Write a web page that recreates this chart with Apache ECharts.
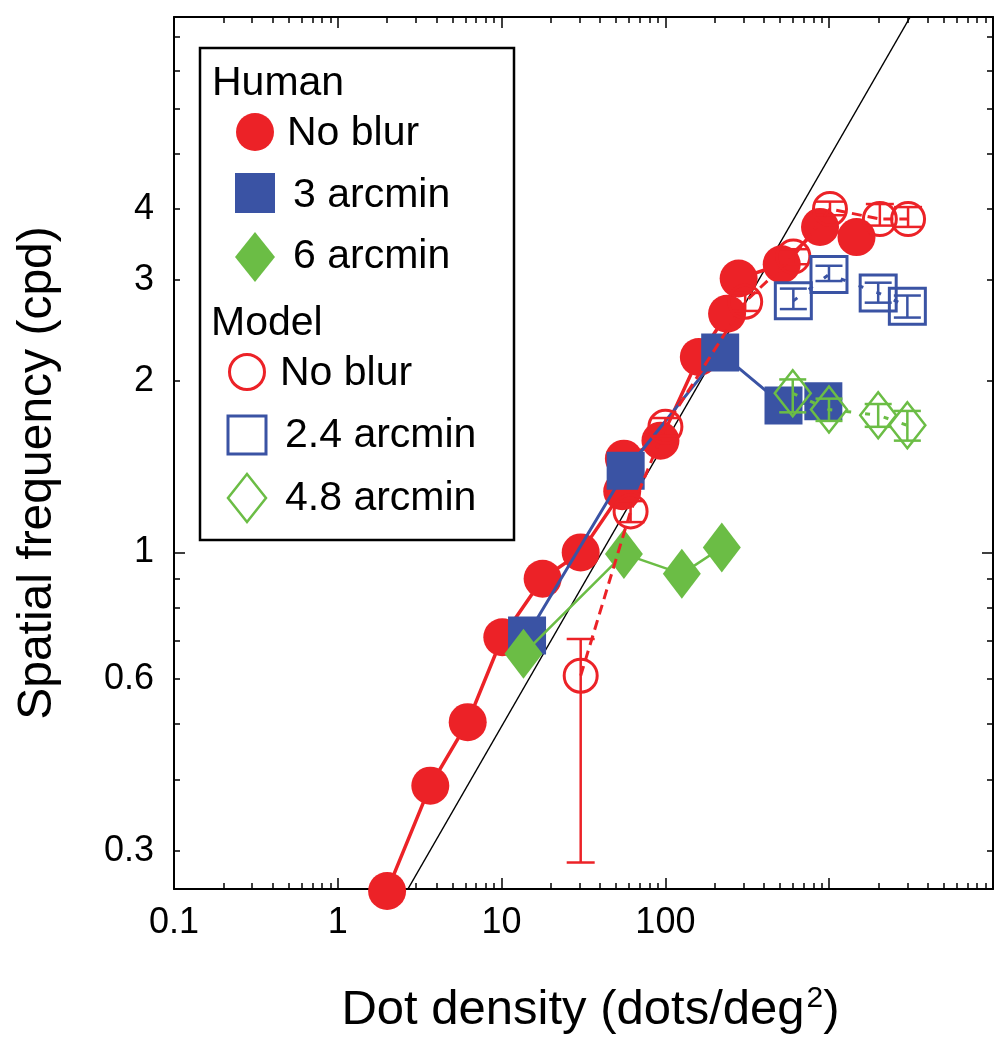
<!DOCTYPE html>
<html><head><meta charset="utf-8">
<script src="https://cdn.jsdelivr.net/npm/echarts@6/dist/echarts.min.js"></script>
<style>html,body{margin:0;padding:0;background:#fff}#c{width:1006px;height:1050px}</style>
</head><body><div id="c"></div>
<script>
// ---------------- data ----------------
const humanNoBlurX = [2.0, 3.67, 6.21, 10.1, 17.8, 30.4, 54.5, 55.8, 93.3, 160, 238, 280, 513, 879, 1468];
const humanNoBlurY = [0.255, 0.39, 0.504, 0.71, 0.899, 1.0, 1.28, 1.46, 1.57, 2.2, 2.62, 3.02, 3.2, 3.72, 3.57];

const human3X = [14.3, 57.2, 216, 526, 921];
const human3Y = [0.715, 1.39, 2.24, 1.81, 1.84];

const human6X = [13.6, 55.8, 126, 221];
const human6Y = [0.664, 0.994, 0.917, 1.02];

const modelNoBlurX  = [30.4, 61.3, 100, 307, 604, 1011, 2038, 3030];
const modelNoBlurY  = [0.608, 1.18, 1.66, 2.75, 3.3, 4.0, 3.84, 3.84];
const modelNoBlurLo = [0.286, 1.13, 1.60, 2.65, 3.2, 3.9, 3.74, 3.72];
const modelNoBlurHi = [0.705, 1.23, 1.72, 2.85, 3.4, 4.12, 4.08, 4.03];

const model24X  = [604, 997, 1991, 3000];
const model24Y  = [2.76, 3.07, 2.85, 2.70];
const model24Lo = [2.67, 2.99, 2.74, 2.58];
const model24Hi = [2.90, 3.18, 2.97, 2.82];

const model48X  = [599, 997, 1991, 3000];
const model48Y  = [1.90, 1.78, 1.74, 1.67];
const model48Lo = [1.76, 1.70, 1.66, 1.57];
const model48Hi = [2.01, 1.86, 1.82, 1.77];

const refLineX = [2.68, 3120];
const refLineY = [0.257, 8.68];

const xTickLabels = [0.1, 1, 10, 100];
const yTickLabels = [0.3, 0.6, 1, 2, 3, 4];
const xMajorTicks = [0.1, 1, 10, 100, 1000, 10000];
const yMajorTicks = [1];
const X_MIN = 0.1, X_MAX = 10000, Y_MIN = 0.257, Y_MAX = 8.68;

// minor tick positions (2..9 times each decade)
const xMinorTicks = [];
[0.1, 1, 10, 100, 1000].forEach(d => { for (let k = 2; k <= 9; k++) xMinorTicks.push(+(d * k).toPrecision(3)); });
const yMinorTicks = [];
[0.1, 1].forEach(d => { for (let k = 2; k <= 9; k++) { const v = +(d * k).toPrecision(3); if (v > Y_MIN && v < Y_MAX && v !== 1) yMinorTicks.push(v); } });

// ---------------- styling ----------------
const FONT = '"Liberation Sans", Arial, Helvetica, sans-serif';
const RED = '#ec2227', BLUE = '#3a53a4', GREEN = '#6bbd45';

const pairs = (xs, ys) => xs.map((x, i) => [x, ys[i]]);
const fmt = v => String(+(+v).toPrecision(3));

function xAx(pos, ticks, len, showLine, labels, extra) {
  return Object.assign({
    type: 'log', logBase: 10, min: X_MIN, max: X_MAX, position: pos, gridIndex: 0,
    axisLine: { show: showLine, onZero: false, lineStyle: { color: '#000', width: 2 } },
    axisTick: { show: true, inside: true, length: len, customValues: ticks, lineStyle: { color: '#000', width: 1.5 } },
    axisLabel: labels ? { show: true, customValues: labels, margin: 16, fontSize: 36, color: '#000', fontFamily: FONT, formatter: fmt } : { show: false },
    splitLine: { show: false }, minorTick: { show: false }, minorSplitLine: { show: false }
  }, extra || {});
}
function yAx(pos, ticks, len, showLine, labels, extra) {
  return Object.assign({
    type: 'log', logBase: 10, min: Y_MIN, max: Y_MAX, position: pos, gridIndex: 0,
    axisLine: { show: showLine, onZero: false, lineStyle: { color: '#000', width: 2 } },
    axisTick: { show: true, inside: true, length: len, customValues: ticks, lineStyle: { color: '#000', width: 1.5 } },
    axisLabel: labels ? { show: true, customValues: labels, margin: 20, fontSize: 36, color: '#000', fontFamily: FONT, formatter: fmt } : { show: false },
    splitLine: { show: false }, minorTick: { show: false }, minorSplitLine: { show: false }
  }, extra || {});
}

function errSeries(xs, lo, hi, color, capW, lw, z) {
  return {
    type: 'custom', xAxisIndex: 0, yAxisIndex: 0, z: z, silent: true, clip: false,
    data: xs.map((x, i) => [x, lo[i], hi[i]]),
    encode: { x: 0, y: [1, 2] },
    renderItem: function (params, api) {
      const p1 = api.coord([api.value(0), api.value(1)]);
      const p2 = api.coord([api.value(0), api.value(2)]);
      const st = { stroke: color, lineWidth: lw, fill: null };
      return { type: 'group', children: [
        { type: 'line', shape: { x1: p1[0], y1: p1[1], x2: p2[0], y2: p2[1] }, style: st },
        { type: 'line', shape: { x1: p1[0] - capW / 2, y1: p1[1], x2: p1[0] + capW / 2, y2: p1[1] }, style: st },
        { type: 'line', shape: { x1: p2[0] - capW / 2, y1: p2[1], x2: p2[0] + capW / 2, y2: p2[1] }, style: st }
      ] };
    }
  };
}

const chart = echarts.init(document.getElementById('c'), null, { renderer: 'canvas' });

// legend (drawn as graphic)
const LX = 200, LY = 48;
const legendFont = '41px ' + FONT;
function ltext(t, x, y) { return { type: 'text', z: 100, style: { text: t, x: x, y: y, font: legendFont, fill: '#000', verticalAlign: 'middle', align: 'left' } }; }
const legend = [
  { type: 'rect', z: 99, shape: { x: LX, y: LY, width: 314, height: 492 }, style: { fill: '#fff', stroke: '#000', lineWidth: 2.5 } },
  ltext('Human', 212, 84),
  { type: 'circle', z: 100, shape: { cx: 255, cy: 132, r: 19 }, style: { fill: RED } },
  ltext('No blur', 287, 134),
  { type: 'rect', z: 100, shape: { x: 235, y: 173, width: 40, height: 40 }, style: { fill: BLUE } },
  ltext('3 arcmin', 293, 196),
  { type: 'polygon', z: 100, shape: { points: [[255, 232], [275, 257], [255, 282], [235, 257]] }, style: { fill: GREEN } },
  ltext('6 arcmin', 293, 257),
  ltext('Model', 211, 324),
  { type: 'circle', z: 100, shape: { cx: 247, cy: 372, r: 17.5 }, style: { fill: 'none', stroke: RED, lineWidth: 3 } },
  ltext('No blur', 280, 374),
  { type: 'rect', z: 100, shape: { x: 228, y: 416, width: 38, height: 38 }, style: { fill: 'none', stroke: BLUE, lineWidth: 3 } },
  ltext('2.4 arcmin', 285, 436),
  { type: 'polygon', z: 100, shape: { points: [[247, 474], [266, 498], [247, 522], [228, 498]] }, style: { fill: 'none', stroke: GREEN, lineWidth: 2.5 } },
  ltext('4.8 arcmin', 285, 499)
];

const option = {
  animation: false,
  backgroundColor: '#fff',
  grid: { left: 174, top: 17, width: 819, height: 872, containLabel: false },
  xAxis: [
    xAx('bottom', xMajorTicks, 11, true, xTickLabels, {
      name: 'Dot density (dots/deg{sup|2})', nameLocation: 'middle', nameGap: 95,
      nameTextStyle: { fontSize: 49, fontFamily: FONT, color: '#000', padding: [0, 0, 0, 14],
        rich: { sup: { fontSize: 30, fontFamily: FONT, color: '#000', verticalAlign: 'top', padding: [0, 0, 22, 2] } } }
    }),
    xAx('bottom', xMinorTicks, 6, false, null),
    xAx('top', xMajorTicks, 11, true, null),
    xAx('top', xMinorTicks, 6, false, null)
  ],
  yAxis: [
    yAx('left', yMajorTicks, 11, true, yTickLabels, {
      name: 'Spatial frequency (cpd)', nameLocation: 'middle', nameGap: 112,
      nameTextStyle: { fontSize: 48, fontFamily: FONT, color: '#000', padding: [0, 40, 0, 0] }
    }),
    yAx('left', yMinorTicks, 6, false, null),
    yAx('right', yMajorTicks, 11, true, null),
    yAx('right', yMinorTicks, 6, false, null)
  ],
  graphic: legend,
  series: [
    { type: 'line', name: 'reference', data: pairs(refLineX, refLineY), symbol: 'none', clip: true, silent: true, z: 1,
      lineStyle: { color: '#000', width: 1.5 } },
    { type: 'line', name: 'Human No blur', data: pairs(humanNoBlurX, humanNoBlurY), clip: false, silent: true, z: 2,
      symbol: 'circle', symbolSize: 38, itemStyle: { color: RED }, lineStyle: { color: RED, width: 3.5 } },
    { type: 'line', name: 'Human 3 arcmin', data: pairs(human3X, human3Y), clip: false, silent: true, z: 3,
      symbol: 'rect', symbolSize: 38, itemStyle: { color: BLUE }, lineStyle: { color: BLUE, width: 3 } },
    { type: 'line', name: 'Human 6 arcmin', data: pairs(human6X, human6Y), clip: false, silent: true, z: 4,
      symbol: 'diamond', symbolSize: [38, 50], itemStyle: { color: GREEN }, lineStyle: { color: GREEN, width: 2.5 } },
    { type: 'line', name: 'Model No blur', data: pairs(modelNoBlurX, modelNoBlurY), clip: false, silent: true, z: 5,
      symbol: 'circle', symbolSize: 33, itemStyle: { color: 'rgba(0,0,0,0)', borderColor: RED, borderWidth: 3 },
      lineStyle: { color: RED, width: 3, type: [10, 6] } },
    errSeries(modelNoBlurX, modelNoBlurLo, modelNoBlurHi, RED, 28, 2.5, 5),
    { type: 'line', name: 'Model 2.4 arcmin', data: pairs(model24X, model24Y), clip: false, silent: true, z: 6,
      symbol: 'rect', symbolSize: 36, itemStyle: { color: 'rgba(0,0,0,0)', borderColor: BLUE, borderWidth: 3 },
      lineStyle: { color: BLUE, width: 3, type: [5, 14] } },
    errSeries(model24X, model24Lo, model24Hi, BLUE, 27, 2.5, 6),
    { type: 'line', name: 'Model 4.8 arcmin', data: pairs(model48X, model48Y), clip: false, silent: true, z: 7,
      symbol: 'diamond', symbolSize: [36, 46], itemStyle: { color: 'rgba(0,0,0,0)', borderColor: GREEN, borderWidth: 2.5 },
      lineStyle: { color: GREEN, width: 3, type: [5, 14] } },
    errSeries(model48X, model48Lo, model48Hi, GREEN, 27, 2.5, 7)
  ]
};
chart.setOption(option);
</script>
</body></html>
